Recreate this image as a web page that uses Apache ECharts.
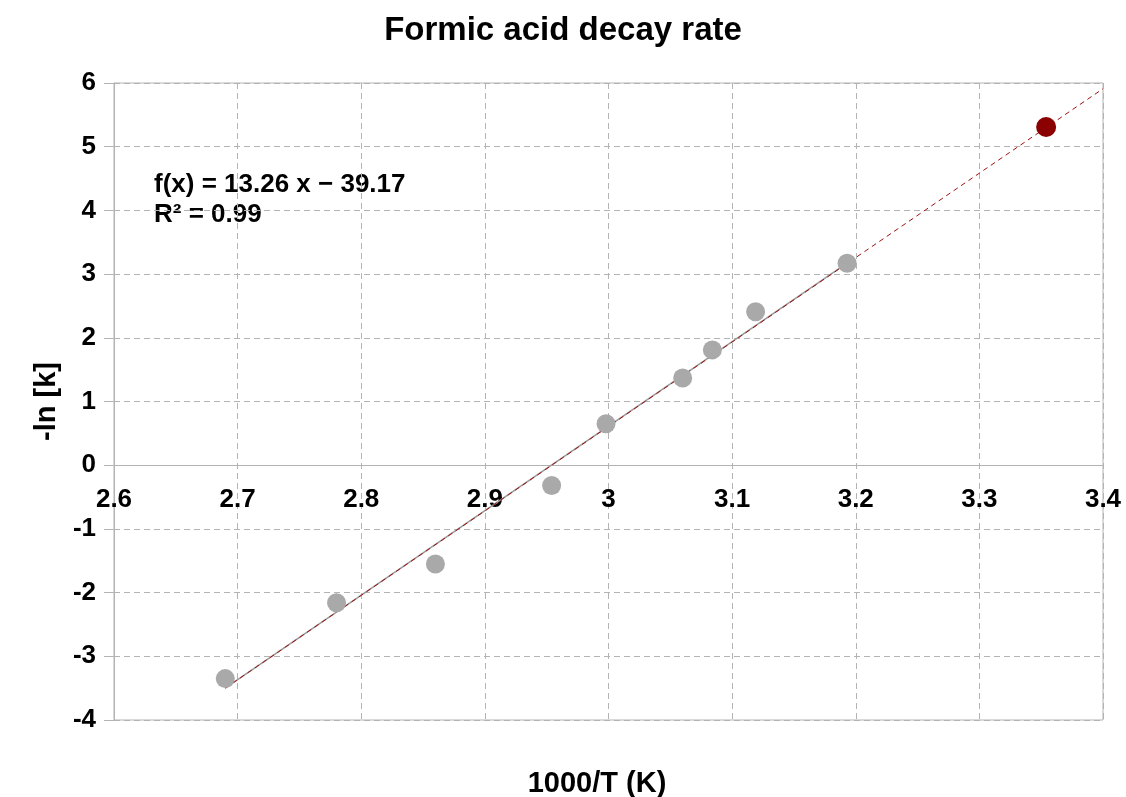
<!DOCTYPE html>
<html><head><meta charset="utf-8">
<script src="https://cdn.jsdelivr.net/npm/echarts@6/dist/echarts.min.js"></script>
<style>html,body{margin:0;padding:0;background:#fff}#c{width:1126px;height:797px}</style>
</head><body><div id="c"></div>
<script>
const grayX = [2.690, 2.780, 2.860, 2.954, 2.998, 3.060, 3.084, 3.119, 3.193];
const grayY = [-3.35, -2.16, -1.55, -0.32, 0.65, 1.37, 1.81, 2.41, 3.17];
const redX = [3.354];
const redY = [5.31];
const trendAllX = [2.690, 3.400];
const trendAllY = [-3.50, 5.91];
const trendGrayX = [2.690, 3.195];
const trendGrayY = [-3.50, 3.20];
const xTicks = [2.6, 2.7, 2.8, 2.9, 3, 3.1, 3.2, 3.3, 3.4];
const yTicks = [-4, -3, -2, -1, 0, 1, 2, 3, 4, 5, 6];
const eqLines = ['f(x) = 13.26 x \u2212 39.17', 'R\u00b2 = 0.99'];

const zip = (a, b) => a.map((v, i) => [v, b[i]]);
const F = 'Liberation Sans, Arial, sans-serif';
const G = {left: 114, right: 23, top: 83, bottom: 77};
const plotH = 797 - G.top - G.bottom;
const yMin = yTicks[0], yMax = yTicks[yTicks.length - 1];
const zeroOffset = -plotH * (0 - yMin) / (yMax - yMin);

const chart = echarts.init(document.getElementById('c'));
chart.setOption({
  animation: false,
  backgroundColor: '#fff',
  title: [
    {text: 'Formic acid decay rate', left: 'center', top: 9,
     textStyle: {fontFamily: F, fontSize: 33, fontWeight: 'bold', color: '#000'}},
    {text: '1000/T (K)', left: 592, top: 764, textAlign: 'center',
     textStyle: {fontFamily: F, fontSize: 29, fontWeight: 'bold', color: '#000'}}
  ],
  grid: Object.assign({show: true, borderColor: '#b3b3b3', borderWidth: 1}, G),
  xAxis: {
    type: 'value', min: xTicks[0], max: xTicks[xTicks.length - 1], interval: 0.1,
    position: 'bottom', offset: zeroOffset,
    axisLine: {onZero: false, lineStyle: {color: '#b3b3b3'}},
    axisTick: {show: false},
    axisLabel: {fontFamily: F, fontSize: 26, fontWeight: 'bold', color: '#000', margin: 22,
      formatter: v => String(+v.toFixed(1))},
    splitLine: {show: true, lineStyle: {color: '#b3b3b3', type: [6, 4]}}
  },
  yAxis: {
    type: 'value', min: yMin, max: yMax, interval: 1,
    name: '-ln [k]', nameLocation: 'middle', nameGap: 53,
    nameTextStyle: {fontFamily: F, fontSize: 29, fontWeight: 'bold', color: '#000'},
    axisLine: {show: true, onZero: false, lineStyle: {color: '#b3b3b3'}},
    axisTick: {show: true, length: 10, lineStyle: {color: '#b3b3b3'}},
    axisLabel: {fontFamily: F, fontSize: 26, fontWeight: 'bold', color: '#000', margin: 18,
      padding: [3, 0, 0, 0]},
    splitLine: {show: true, lineStyle: {color: '#b3b3b3', type: [6, 4]}}
  },
  graphic: eqLines.map((t, i) => ({
    type: 'text', left: 154, top: 172 + i * 30, silent: true,
    style: {text: t, font: 'bold 26px ' + F, fill: '#000'}
  })),
  series: [
    {type: 'line', data: zip(trendGrayX, trendGrayY), symbol: 'none', silent: true,
     lineStyle: {color: '#999999', width: 1.5}, z: 2},
    {type: 'line', data: zip(trendAllX, trendAllY), symbol: 'none', silent: true,
     lineStyle: {color: '#a01010', width: 1, type: [5, 4]}, z: 3},
    {type: 'scatter', data: zip(grayX, grayY), symbolSize: 19,
     itemStyle: {color: '#a9a9a9', opacity: 1}, z: 4},
    {type: 'scatter', data: zip(redX, redY), symbolSize: 20,
     itemStyle: {color: '#8b0000', opacity: 1}, z: 5}
  ]
});
</script></body></html>
